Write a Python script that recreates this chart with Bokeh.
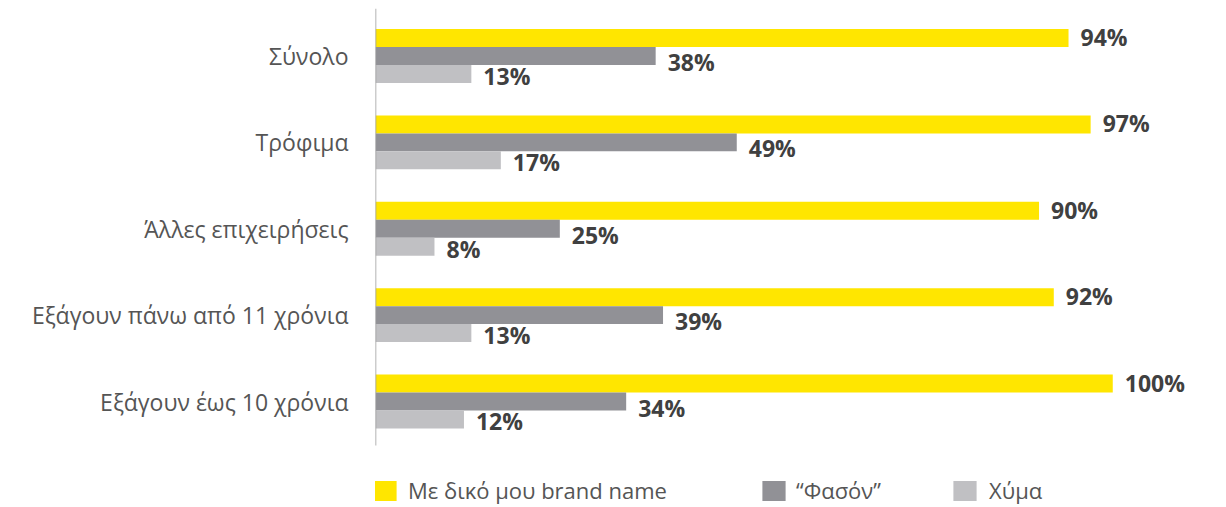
from bokeh.plotting import figure
from bokeh.models import ColumnDataSource, Legend, LegendItem, LinearAxis, FixedTicker, Range1d
from bokeh.transform import dodge
from bokeh.core.properties import value
from bokeh.embed import file_html
from bokeh.resources import INLINE

categories = ["Σύνολο", "Τρόφιμα", "Άλλες επιχειρήσεις", "Εξάγουν πάνω από 11 χρόνια", "Εξάγουν έως 10 χρόνια"]
series_names = ["Με δικό μου brand name", "“Φασόν”", "Χύμα"]
brand = [94, 97, 90, 92, 100]
fason = [38, 49, 25, 39, 34]
xyma = [13, 17, 8, 13, 12]

colors = ["#FFE600", "#919196", "#C0C0C3"]
label_color = "#404040"
text_color = "#555555"

n = len(categories)
ypos = [n - 1 - i for i in range(n)]  # top category at the top

src = ColumnDataSource(dict(
    y=ypos, brand=brand, fason=fason, xyma=xyma,
    brand_t=[f"{v}%" for v in brand],
    fason_t=[f"{v}%" for v in fason],
    xyma_t=[f"{v}%" for v in xyma],
))

p = figure(width=1226, height=507,
           x_range=Range1d(0, 111.9), y_range=Range1d(-1.227, 4.55),
           output_backend="svg", toolbar_location=None,
           min_border_left=375, min_border_right=26, min_border_top=8, min_border_bottom=0,
           y_axis_location=None, x_axis_location=None)

bh = 0.208
offs = [bh, 0.0, -bh]
cols = ["brand", "fason", "xyma"]
yoffs = [-1, 6, 2]
renderers = []
for c, o, col, yo in zip(cols, offs, colors, yoffs):
    r = p.hbar(y=dodge("y", o), right=c, left=0, height=bh,
               source=src, fill_color=col, line_color=None)
    renderers.append(r)
    p.text(x=c, y=dodge("y", o), text=c + "_t", source=src,
           x_offset=12, y_offset=yo, text_baseline="middle", text_align="left",
           text_font=value("Open Sans"), text_font_style="bold", text_font_size="23px",
           text_color=label_color)

# vertical axis line from the bottom of the last group to the top of the plot
p.segment(x0=[0], y0=[-0.51], x1=[0], y1=[4.55], line_color="#9a9a9a", line_width=1.5)

yaxis = LinearAxis(ticker=FixedTicker(ticks=ypos))
yaxis.major_label_overrides = {t: c for t, c in zip(ypos, categories)}
yaxis.axis_line_color = None
yaxis.major_tick_line_color = None
yaxis.minor_tick_line_color = None
yaxis.major_tick_out = 0
yaxis.major_tick_in = 0
yaxis.major_label_text_font = "Open Sans"
yaxis.major_label_text_font_size = "23px"
yaxis.major_label_text_color = text_color
yaxis.major_label_standoff = 27
p.add_layout(yaxis, "left")

p.xgrid.visible = False
p.ygrid.visible = False
p.outline_line_color = None

legend_x = [-5, 384, 575]
standoffs = [9, 8, 10]
for name, r, lx, so in zip(series_names, renderers, legend_x, standoffs):
    lg = Legend(items=[LegendItem(label=name, renderers=[r])], location=(lx, 2),
                orientation="horizontal", padding=0, margin=0, spacing=0,
                glyph_width=29, glyph_height=25, label_height=25, label_standoff=so,
                label_text_font="Open Sans", label_text_font_size="22px",
                label_text_color=text_color, border_line_color=None,
                background_fill_alpha=0)
    p.add_layout(lg, "center")

open("out.html", "w").write(file_html(p, INLINE))
